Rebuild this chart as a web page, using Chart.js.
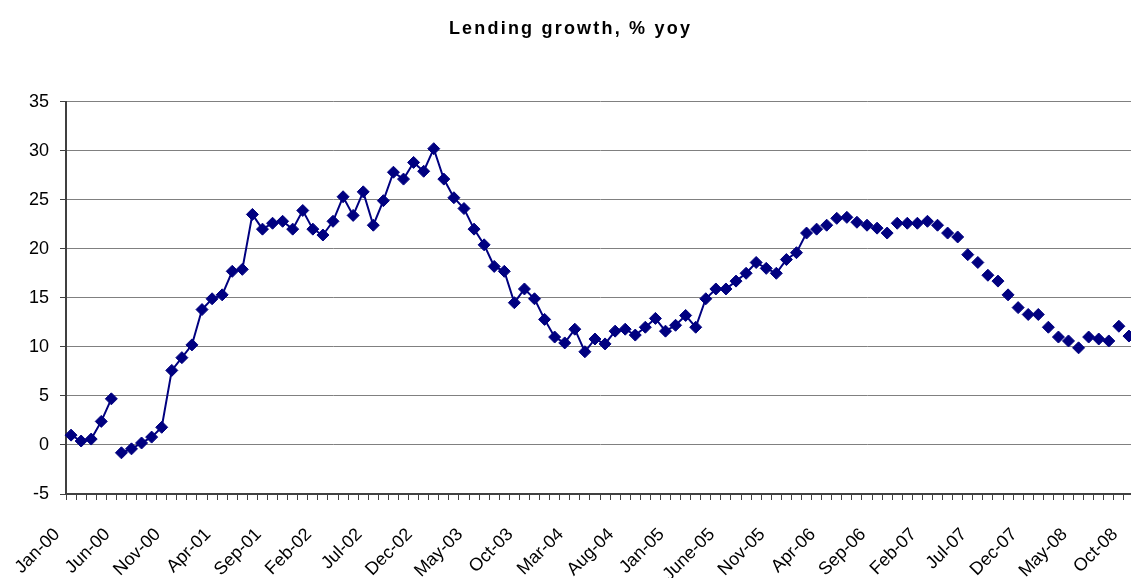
<!DOCTYPE html>
<html>
<head>
<meta charset="utf-8">
<script src="https://cdn.jsdelivr.net/npm/chart.js@4"></script>
<style>
html,body{margin:0;padding:0;overflow:hidden;background:#fff;}
#c{display:block;}
</style>
</head>
<body>
<canvas id="c" width="1141" height="578"></canvas>
<script>
const categories = [
  "Jan-00","Feb-00","Mar-00","Apr-00","May-00","Jun-00","Jul-00","Aug-00","Sep-00","Oct-00","Nov-00","Dec-00",
  "Jan-01","Feb-01","Mar-01","Apr-01","May-01","Jun-01","Jul-01","Aug-01","Sep-01","Oct-01","Nov-01","Dec-01",
  "Jan-02","Feb-02","Mar-02","Apr-02","May-02","Jun-02","Jul-02","Aug-02","Sep-02","Oct-02","Nov-02","Dec-02",
  "Jan-03","Feb-03","Mar-03","Apr-03","May-03","Jun-03","Jul-03","Aug-03","Sep-03","Oct-03","Nov-03","Dec-03",
  "Jan-04","Feb-04","Mar-04","Apr-04","May-04","Jun-04","Jul-04","Aug-04","Sep-04","Oct-04","Nov-04","Dec-04",
  "Jan-05","Feb-05","Mar-05","Apr-05","May-05","June-05","Jul-05","Aug-05","Sep-05","Oct-05","Nov-05","Dec-05",
  "Jan-06","Feb-06","Mar-06","Apr-06","May-06","Jun-06","Jul-06","Aug-06","Sep-06","Oct-06","Nov-06","Dec-06",
  "Jan-07","Feb-07","Mar-07","Apr-07","May-07","Jun-07","Jul-07","Aug-07","Sep-07","Oct-07","Nov-07","Dec-07",
  "Jan-08","Feb-08","Mar-08","Apr-08","May-08","Jun-08","Jul-08","Aug-08","Sep-08","Oct-08"
];

const lendingGrowth = [
  1.0, 0.4, 0.6, 2.4, 4.7, -0.8, -0.4, 0.2, 0.8, 1.8, 7.6, 8.9,
  10.2, 13.8, 14.9, 15.3, 17.7, 17.9, 23.5, 22.0, 22.6, 22.8, 22.0, 23.9,
  22.0, 21.4, 22.8, 25.3, 23.4, 25.8, 22.4, 24.9, 27.8, 27.1, 28.8, 27.9,
  30.2, 27.1, 25.2, 24.1, 22.0, 20.4, 18.2, 17.7, 14.5, 15.9, 14.9, 12.8,
  11.0, 10.4, 11.8, 9.5, 10.8, 10.3, 11.6, 11.8, 11.2, 12.0, 12.9, 11.6,
  12.2, 13.2, 12.0, 14.9, 15.9, 15.9, 16.7, 17.5, 18.6, 18.0, 17.5, 18.9,
  19.6, 21.6, 22.0, 22.4, 23.1, 23.2, 22.7, 22.4, 22.1, 21.6, 22.6, 22.6,
  22.6, 22.8, 22.4, 21.6, 21.2, 19.4, 18.6, 17.3, 16.7, 15.3, 14.0, 13.3,
  13.3, 12.0, 11.0, 10.6, 9.9, 11.0, 10.8, 10.6, 12.1, 11.1
];

const yTickValues = [-5, 0, 5, 10, 15, 20, 25, 30, 35];
const labelEvery = 5;
const brokenAfter = 4;      // line break between May-00 and Jun-00
const markersOnlyFrom = 73; // line not drawn from here on

const FONT = "'Liberation Sans', Arial, sans-serif";
const AXIS = '#404040';

const titleSpacing = {
  id: 'titleSpacing',
  beforeDraw(chart) {
    const tb = chart.titleBlock;
    if (tb && !tb._spaced) {
      const orig = tb.draw.bind(tb);
      tb.draw = function (...a) {
        const ctx = chart.ctx;
        ctx.save();
        ctx.letterSpacing = '2.2px';
        orig(...a);
        ctx.restore();
      };
      tb._spaced = true;
    }
  }
};

new Chart(document.getElementById('c'), {
  type: 'line',
  data: {
    labels: categories,
    datasets: [{
      label: 'Lending growth',
      data: lendingGrowth,
      borderColor: '#000080',
      borderWidth: 2,
      tension: 0,
      pointStyle: 'rectRot',
      pointRadius: 6,
      pointBorderWidth: 1,
      pointBackgroundColor: '#000080',
      pointBorderColor: '#000080',
      segment: {
        borderColor: ctx => (ctx.p0DataIndex === brokenAfter || ctx.p0DataIndex >= markersOnlyFrom) ? 'rgba(0,0,0,0)' : undefined
      }
    }]
  },
  options: {
    responsive: false,
    animation: false,
    devicePixelRatio: 1,
    layout: { padding: 0 },
    plugins: {
      legend: { display: false },
      tooltip: { enabled: false },
      title: {
        display: true,
        text: 'Lending growth, % yoy',
        color: '#000',
        font: { family: FONT, size: 18, weight: 'bold', lineHeight: 1.2 },
        padding: { top: 18, bottom: 62 }
      }
    },
    scales: {
      x: {
        type: 'category',
        offset: true,
        grid: { offset: true, drawOnChartArea: false, drawTicks: true, tickLength: 6, tickColor: AXIS, lineWidth: 1 },
        border: { display: true, color: AXIS, width: 2 },
        ticks: {
          autoSkip: false,
          minRotation: 45,
          maxRotation: 45,
          labelOffset: -14,
          padding: 24,
          color: '#000',
          font: { family: FONT, size: 18 },
          callback: (v, i) => (i % labelEvery === 0 ? categories[i] : '')
        },
        afterFit: s => { s.height = 84; s.paddingLeft = 0; s.paddingRight = 0; }
      },
      y: {
        min: yTickValues[0],
        max: yTickValues[yTickValues.length - 1],
        afterBuildTicks: s => { s.ticks = yTickValues.map(v => ({ value: v })); },
        grid: { color: '#808080', lineWidth: 1, drawTicks: true, tickLength: 6, tickColor: AXIS },
        border: { display: true, color: AXIS, width: 2 },
        ticks: { padding: 11, color: '#000', font: { family: FONT, size: 18 } },
        afterFit: s => { s.width = 66; s.paddingTop = 0; s.paddingBottom = 0; }
      }
    }
  },
  plugins: [titleSpacing]
});
</script>
</body>
</html>
